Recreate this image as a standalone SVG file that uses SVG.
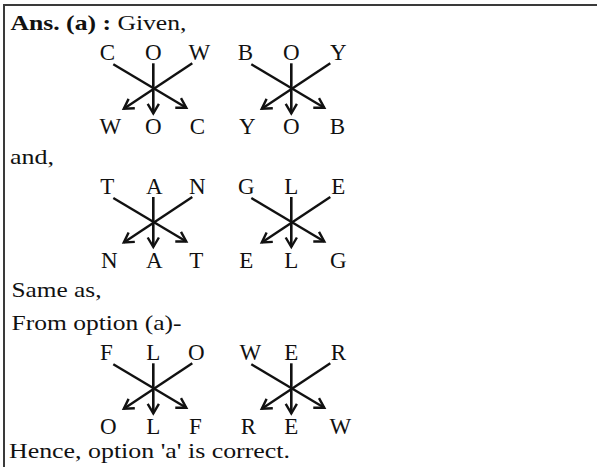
<svg xmlns="http://www.w3.org/2000/svg" width="597" height="467" viewBox="0 0 597 467">
<style>
.t{font-family:"Liberation Serif","Times New Roman",serif;font-size:22px;fill:#111}
.b{font-weight:bold}
.l{font-family:"Liberation Serif","Times New Roman",serif;font-size:23px;fill:#111;text-anchor:middle}
.c{stroke:#111;stroke-width:2.4;fill:none;marker-end:url(#ah)}
.v{stroke:#111;stroke-width:2.6;fill:none;marker-end:url(#ah)}
</style>
<defs>
<marker id="ah" markerUnits="userSpaceOnUse" viewBox="-12 -8 14 16" refX="0" refY="0" markerWidth="14" markerHeight="16" orient="auto" overflow="visible">
<path d="M-9.5,-5.6 L0,0 L-9.5,5.6" fill="none" stroke="#111" stroke-width="2.4" stroke-linejoin="miter"/>
</marker>
</defs>
<rect width="597" height="467" fill="#fff"/>
<g id="frame" stroke="#3a3a3a" stroke-width="2">
<line x1="4" y1="5" x2="597" y2="5"/>
<line x1="4" y1="4" x2="4" y2="467"/>
</g>
<g id="texts">
<text class="t" x="10.5" y="29.5" textLength="176" lengthAdjust="spacingAndGlyphs"><tspan class="b">Ans. (a) :</tspan> Given,</text>
<text class="t" x="10" y="164" textLength="44" lengthAdjust="spacingAndGlyphs">and,</text>
<text class="t" x="11.5" y="297" textLength="90" lengthAdjust="spacingAndGlyphs">Same as,</text>
<text class="t" x="11.5" y="330" textLength="170" lengthAdjust="spacingAndGlyphs">From option (a)-</text>
<text class="t" x="9" y="457.5" textLength="281" lengthAdjust="spacingAndGlyphs">Hence, option 'a' is correct.</text>
</g>
<g id="cow">
<text class="l" x="107.3" y="60.3">C</text><text class="l" x="153.3" y="60.3">O</text><text class="l" x="199.3" y="60.3">W</text>
<text class="l" x="110.3" y="133.8">W</text><text class="l" x="153.3" y="133.8">O</text><text class="l" x="197.3" y="133.8">C</text>
</g>
<g id="boy">
<text class="l" x="245.3" y="60.3">B</text><text class="l" x="291.3" y="60.3">O</text><text class="l" x="338.3" y="60.3">Y</text>
<text class="l" x="247.3" y="133.8">Y</text><text class="l" x="291.3" y="133.8">O</text><text class="l" x="337.3" y="133.8">B</text>
</g>
<g id="tan">
<text class="l" x="107.3" y="194">T</text><text class="l" x="154.3" y="194">A</text><text class="l" x="197.3" y="194">N</text>
<text class="l" x="109.3" y="267.5">N</text><text class="l" x="154.3" y="267.5">A</text><text class="l" x="196.3" y="267.5">T</text>
</g>
<g id="gle">
<text class="l" x="246.3" y="194">G</text><text class="l" x="291.3" y="194">L</text><text class="l" x="338.3" y="194">E</text>
<text class="l" x="246.3" y="267.5">E</text><text class="l" x="291.3" y="267.5">L</text><text class="l" x="338.3" y="267.5">G</text>
</g>
<g id="flo">
<text class="l" x="106.3" y="360.3">F</text><text class="l" x="153.3" y="360.3">L</text><text class="l" x="196.3" y="360.3">O</text>
<text class="l" x="108.3" y="433.8">O</text><text class="l" x="153.3" y="433.8">L</text><text class="l" x="195.3" y="433.8">F</text>
</g>
<g id="wer">
<text class="l" x="250.3" y="360.3">W</text><text class="l" x="291.3" y="360.3">E</text><text class="l" x="338.3" y="360.3">R</text>
<text class="l" x="248.3" y="433.8">R</text><text class="l" x="291.3" y="433.8">E</text><text class="l" x="340.3" y="433.8">W</text>
</g>
<g id="connectors">
<line class="c" x1="113.3" y1="64.3" x2="186.3" y2="107.8"/>
<line class="c" x1="192.3" y1="63.3" x2="123.8" y2="108.8"/>
<line class="v" x1="153.3" y1="63.3" x2="153.3" y2="113.3"/>
<line class="c" x1="251.3" y1="64.3" x2="324.3" y2="107.8"/>
<line class="c" x1="330.3" y1="63.3" x2="261.8" y2="108.8"/>
<line class="v" x1="291.3" y1="63.3" x2="291.3" y2="113.3"/>
<line class="c" x1="113.3" y1="198" x2="186.3" y2="241.5"/>
<line class="c" x1="192.3" y1="197" x2="123.8" y2="242.5"/>
<line class="v" x1="153.3" y1="197" x2="153.3" y2="247"/>
<line class="c" x1="251.3" y1="198" x2="324.3" y2="241.5"/>
<line class="c" x1="330.3" y1="197" x2="261.8" y2="242.5"/>
<line class="v" x1="291.3" y1="197" x2="291.3" y2="247"/>
<line class="c" x1="113.3" y1="364.3" x2="186.3" y2="407.8"/>
<line class="c" x1="192.3" y1="363.3" x2="123.8" y2="408.8"/>
<line class="v" x1="153.3" y1="363.3" x2="153.3" y2="413.3"/>
<line class="c" x1="251.3" y1="364.3" x2="324.3" y2="407.8"/>
<line class="c" x1="330.3" y1="363.3" x2="261.8" y2="408.8"/>
<line class="v" x1="291.3" y1="363.3" x2="291.3" y2="413.3"/>
</g>
</svg>
